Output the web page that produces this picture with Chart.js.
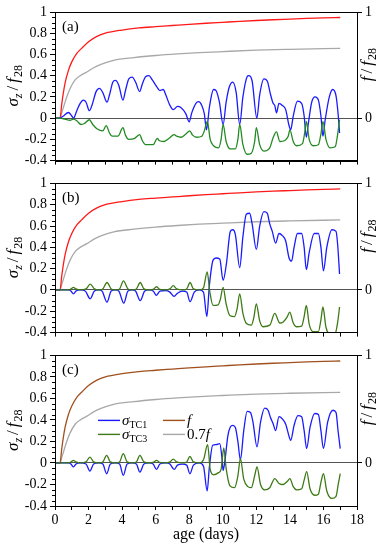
<!DOCTYPE html>
<html>
<head>
<meta charset="utf-8">
<script src="https://cdn.jsdelivr.net/npm/chart.js@4.4.1/dist/chart.umd.min.js"></script>
<style>
  html, body { margin: 0; padding: 0; background: #fff; }
  #wrap { position: relative; width: 384px; height: 550px; }
  canvas { position: absolute; left: 0; }
</style>
</head>
<body>
<div id="wrap">
  <canvas id="panelA" width="384" height="172" style="top:0px"></canvas>
  <canvas id="panelB" width="384" height="172" style="top:172px"></canvas>
  <canvas id="panelC" width="384" height="206" style="top:344px"></canvas>
</div>
<script>
"use strict";

// strength development, shared by all panels
const fDays = [0, 0.3, 0.4, 0.5, 0.6, 0.8, 1.0, 1.3, 1.6, 2.0, 2.5, 3, 4, 5, 6, 7, 8, 9, 10, 11, 12, 13, 14, 15, 16, 17];
const fValues = [0, 0, 0.13, 0.24, 0.33, 0.45, 0.53, 0.61, 0.66, 0.72, 0.77, 0.80, 0.83, 0.85, 0.862, 0.873, 0.884, 0.894, 0.903, 0.912, 0.92, 0.927, 0.933, 0.939, 0.944, 0.948];
const f07Days = [0, 0.3, 0.4, 0.5, 0.7, 0.9, 1.2, 1.5, 1.9, 2.3, 2.7, 3.5, 4.7, 6, 7.3, 8.6, 10, 12, 14, 17];
const f07Values = [0, 0, 0.05, 0.10, 0.20, 0.28, 0.36, 0.40, 0.435, 0.475, 0.505, 0.545, 0.57, 0.59, 0.605, 0.617, 0.627, 0.64, 0.648, 0.657];

// panel (a)
const aTC1Days = [0, 0.3, 0.5, 0.8, 1.0, 1.1, 1.3, 1.5, 1.7, 1.85, 2.05, 2.2, 2.45, 2.65, 2.85, 3.1, 3.25, 3.45, 3.6, 3.8, 4.05, 4.2, 4.4, 4.6, 4.8, 5.05, 5.2, 5.4, 5.6, 5.8, 6.05, 6.25, 6.45, 6.6, 6.85, 7.05, 7.3, 7.5, 7.8, 8.0, 8.15, 8.4, 8.55, 8.75, 8.9, 9.03, 9.2, 9.45, 9.6, 9.8, 10.02, 10.2, 10.4, 10.6, 10.8, 11.01, 11.2, 11.45, 11.55, 11.75, 12.03, 12.2, 12.45, 12.65, 12.85, 13.0, 13.1, 13.2, 13.35, 13.55, 13.75, 13.95, 14.05, 14.2, 14.45, 14.7, 14.85, 14.98, 15.1, 15.3, 15.5, 15.7, 15.85, 15.97, 16.1, 16.35, 16.55, 16.75, 16.88, 16.96];
const aTC1Values = [0, 0, 0.02, 0.053, 0.02, 0.0, 0.07, 0.14, 0.17, 0.15, 0.07, 0.12, 0.25, 0.28, 0.24, 0.15, 0.22, 0.34, 0.355, 0.31, 0.17, 0.26, 0.37, 0.386, 0.34, 0.25, 0.32, 0.39, 0.40, 0.36, 0.30, 0.26, 0.27, 0.22, 0.12, 0.08, 0.11, 0.10, 0.04, -0.035, 0.05, 0.14, 0.155, 0.12, 0.04, -0.11, 0.10, 0.27, 0.26, 0.15, -0.06, 0.15, 0.30, 0.34, 0.24, -0.06, 0.20, 0.39, 0.40, 0.35, 0.0, 0.22, 0.37, 0.35, 0.22, 0.14, 0.12, 0.05, 0.14, 0.12, 0.08, -0.07, -0.11, 0.02, 0.16, 0.14, 0.02, -0.18, -0.05, 0.15, 0.20, 0.17, 0.02, -0.17, -0.02, 0.20, 0.27, 0.21, 0.03, -0.14];
const aTC3Days = [0, 0.3, 0.6, 0.9, 1.1, 1.3, 1.55, 1.75, 2.05, 2.25, 2.5, 2.85, 3.05, 3.25, 3.4, 3.75, 4.05, 4.2, 4.4, 4.75, 5.05, 5.2, 5.4, 5.85, 6.1, 6.2, 6.5, 6.8, 7.1, 7.25, 7.5, 7.8, 8.03, 8.2, 8.45, 8.75, 8.9, 9.08, 9.25, 9.45, 9.75, 9.9, 10.02, 10.2, 10.45, 10.75, 10.9, 11.01, 11.2, 11.45, 11.7, 11.9, 12.0, 12.2, 12.45, 12.8, 13.0, 13.2, 13.4, 13.7, 13.9, 14.0, 14.2, 14.4, 14.75, 14.9, 14.98, 15.15, 15.4, 15.7, 15.85, 15.97, 16.15, 16.4, 16.7, 16.85, 16.96];
const aTC3Values = [0, 0, -0.01, -0.02, -0.01, -0.025, -0.06, -0.05, -0.015, -0.06, -0.10, -0.12, -0.07, -0.14, -0.17, -0.17, -0.09, -0.16, -0.20, -0.19, -0.155, -0.21, -0.25, -0.25, -0.19, -0.21, -0.22, -0.19, -0.155, -0.17, -0.18, -0.15, -0.12, -0.16, -0.18, -0.17, -0.12, -0.03, -0.20, -0.26, -0.28, -0.20, -0.06, -0.22, -0.29, -0.29, -0.20, -0.06, -0.25, -0.34, -0.33, -0.22, -0.09, -0.25, -0.31, -0.28, -0.185, -0.13, -0.22, -0.21, -0.17, -0.11, -0.22, -0.26, -0.24, -0.12, -0.03, -0.20, -0.26, -0.25, -0.15, -0.03, -0.20, -0.28, -0.27, -0.15, -0.015];

// panel (b)
const bTC1Days = [0, 0.3, 0.8, 0.95, 1.1, 1.25, 1.5, 1.8, 2.1, 2.35, 2.6, 2.8, 3.1, 3.35, 3.6, 3.8, 4.1, 4.35, 4.6, 4.8, 5.08, 5.35, 5.6, 5.85, 6.05, 6.25, 6.6, 6.85, 7.1, 7.3, 7.6, 7.85, 8.05, 8.3, 8.6, 8.85, 9.05, 9.2, 9.42, 9.6, 9.82, 10.02, 10.22, 10.45, 10.6, 10.75, 11.01, 11.2, 11.4, 11.6, 11.75, 12.0, 12.2, 12.45, 12.65, 12.8, 12.95, 13.15, 13.35, 13.55, 13.75, 13.95, 14.1, 14.25, 14.45, 14.7, 14.85, 14.98, 15.15, 15.45, 15.7, 15.85, 16.0, 16.2, 16.5, 16.75, 16.85, 16.96];
const bTC1Values = [0, 0, 0, -0.01, -0.037, -0.01, 0, -0.01, -0.083, -0.01, 0, -0.01, -0.114, -0.01, 0, -0.01, -0.123, -0.01, 0, -0.01, -0.10, -0.01, 0, -0.01, -0.05, -0.01, -0.005, -0.02, -0.06, -0.03, -0.01, -0.02, -0.11, -0.02, 0, -0.02, -0.25, 0.04, 0.28, 0.30, 0.29, 0.09, 0.25, 0.55, 0.565, 0.52, 0.21, 0.50, 0.71, 0.72, 0.62, 0.38, 0.60, 0.735, 0.72, 0.62, 0.55, 0.44, 0.53, 0.51, 0.46, 0.30, 0.27, 0.40, 0.53, 0.53, 0.40, 0.19, 0.35, 0.53, 0.53, 0.40, 0.18, 0.40, 0.565, 0.55, 0.42, 0.15];
const bTC3Days = [0, 0.3, 0.8, 0.95, 1.1, 1.25, 1.5, 1.85, 2.1, 2.35, 2.6, 2.85, 3.1, 3.35, 3.6, 3.85, 4.08, 4.35, 4.6, 4.85, 5.08, 5.3, 5.6, 5.85, 6.05, 6.25, 6.6, 6.85, 7.05, 7.25, 7.6, 7.85, 8.05, 8.25, 8.6, 8.85, 9.07, 9.23, 9.42, 9.72, 9.85, 10.02, 10.2, 10.42, 10.7, 10.85, 11.01, 11.2, 11.41, 11.7, 11.85, 12.0, 12.2, 12.4, 12.8, 13.1, 13.4, 13.6, 13.85, 13.99, 14.2, 14.38, 14.7, 14.85, 14.98, 15.15, 15.38, 15.7, 15.85, 15.97, 16.15, 16.47, 16.7, 16.85, 16.96];
const bTC3Values = [0, 0, 0, 0.01, 0.025, 0.01, 0, 0.01, 0.055, 0.01, 0, 0.01, 0.07, 0.01, 0, 0.01, 0.086, 0.01, 0, 0.01, 0.07, 0.01, 0, 0.005, 0.03, 0.005, 0, 0.01, 0.04, 0.01, 0, 0.01, 0.07, 0.01, 0, 0.02, 0.17, -0.02, -0.145, -0.14, -0.09, 0.025, -0.13, -0.24, -0.25, -0.18, -0.037, -0.22, -0.315, -0.33, -0.26, -0.13, -0.29, -0.345, -0.33, -0.22, -0.31, -0.30, -0.25, -0.207, -0.31, -0.345, -0.34, -0.25, -0.145, -0.32, -0.39, -0.39, -0.28, -0.16, -0.35, -0.417, -0.41, -0.30, -0.16];

// panel (c)
const cTC1Days = [0, 0.3, 0.8, 0.95, 1.1, 1.25, 1.5, 1.85, 2.08, 2.3, 2.6, 2.85, 3.08, 3.3, 3.6, 3.85, 4.07, 4.3, 4.6, 4.85, 5.06, 5.3, 5.6, 5.85, 6.05, 6.25, 6.6, 6.85, 7.1, 7.3, 7.6, 7.85, 8.04, 8.25, 8.6, 8.85, 9.07, 9.2, 9.4, 9.6, 9.82, 9.95, 10.02, 10.15, 10.3, 10.45, 10.6, 10.75, 10.9, 11.05, 11.25, 11.45, 11.65, 11.8, 12.04, 12.25, 12.5, 12.7, 12.85, 13.0, 13.15, 13.35, 13.6, 13.75, 13.99, 14.05, 14.25, 14.48, 14.7, 14.85, 15.0, 15.2, 15.48, 15.7, 15.85, 16.0, 16.25, 16.57, 16.75, 16.87, 17.0];
const cTC1Values = [0, 0, 0, -0.01, -0.037, -0.01, 0, -0.01, -0.075, -0.01, 0, -0.01, -0.10, -0.01, 0, -0.01, -0.115, -0.01, 0, -0.01, -0.085, -0.01, 0, -0.01, -0.06, -0.01, 0, -0.01, -0.06, -0.02, -0.01, -0.02, -0.10, -0.02, 0, -0.03, -0.26, -0.04, 0.165, 0.17, 0.18, 0.05, -0.07, 0.05, 0.25, 0.335, 0.35, 0.33, 0.20, 0.03, 0.30, 0.48, 0.47, 0.38, 0.15, 0.38, 0.51, 0.49, 0.42, 0.365, 0.30, 0.43, 0.40, 0.36, 0.227, 0.21, 0.35, 0.44, 0.43, 0.30, 0.134, 0.33, 0.46, 0.45, 0.30, 0.134, 0.38, 0.49, 0.47, 0.30, 0.134];
const cTC3Days = [0, 0.3, 0.8, 0.95, 1.1, 1.25, 1.5, 1.85, 2.08, 2.3, 2.6, 2.85, 3.08, 3.3, 3.6, 3.85, 4.07, 4.3, 4.6, 4.85, 5.06, 5.3, 5.6, 5.85, 6.05, 6.25, 6.6, 6.85, 7.05, 7.25, 7.6, 7.85, 8.04, 8.25, 8.6, 8.85, 9.1, 9.25, 9.45, 9.75, 9.9, 10.06, 10.2, 10.42, 10.7, 10.9, 11.05, 11.25, 11.5, 11.7, 11.9, 12.04, 12.25, 12.5, 12.8, 13.1, 13.35, 13.6, 13.85, 14.0, 14.2, 14.4, 14.7, 14.85, 15.0, 15.2, 15.48, 15.7, 15.85, 16.0, 16.2, 16.5, 16.75, 16.88, 17.0];
const cTC3Values = [0, 0, 0, 0.01, 0.025, 0.01, 0, 0.01, 0.055, 0.01, 0, 0.01, 0.07, 0.01, 0, 0.01, 0.086, 0.01, 0, 0.01, 0.07, 0.01, 0, 0.005, 0.025, 0.005, 0, 0.01, 0.035, 0.01, 0, 0.01, 0.06, 0.01, 0, 0.03, 0.17, -0.06, -0.11, -0.09, -0.06, 0.14, -0.05, -0.21, -0.23, -0.12, 0.04, -0.15, -0.22, -0.23, -0.12, -0.037, -0.20, -0.25, -0.23, -0.145, -0.19, -0.20, -0.17, -0.145, -0.22, -0.25, -0.24, -0.16, -0.08, -0.24, -0.30, -0.29, -0.18, -0.10, -0.26, -0.33, -0.31, -0.20, -0.10];

const yTicks = [-0.4, -0.2, 0, 0.2, 0.4, 0.6, 0.8, 1];
const rightTicks = [0, 1];

const SERIF = "'Liberation Serif', 'DejaVu Serif', serif";

function points(days, vals) {
  return days.map((d, i) => ({ x: d, y: vals[i] }));
}

// draws a run of text pieces (italic / subscript) starting at x
function richText(ctx, parts, x, y, center) {
  let total = 0;
  parts.forEach(p => {
    ctx.font = (p.it ? "italic " : "") + p.size + "px " + SERIF;
    p.w = ctx.measureText(p.t).width + (p.gap || 0);
    total += p.w;
  });
  let cx = center ? x - total / 2 : x;
  ctx.textAlign = "left";
  ctx.textBaseline = "alphabetic";
  parts.forEach(p => {
    ctx.font = (p.it ? "italic " : "") + p.size + "px " + SERIF;
    ctx.fillText(p.t, cx + (p.pre || 0), y + (p.dy || 0));
    cx += p.w;
  });
}

const decor = {
  id: "decor",
  afterDraw(chart, args, opts) {
    const ctx = chart.ctx;
    const area = chart.chartArea;
    const ys = chart.scales.y;
    ctx.save();
    // frame
    ctx.strokeStyle = "#000";
    ctx.lineWidth = 1;
    ctx.strokeRect(Math.round(area.left) + 0.5, Math.round(area.top) + 0.5,
      Math.round(area.right - area.left), Math.round(area.bottom - area.top));
    // minor ticks on the left axis
    ctx.beginPath();
    for (let i = -8; i <= 20; i++) {
      if (i % 4 === 0) continue;
      const py = Math.round(ys.getPixelForValue(i * 0.05)) + 0.5;
      ctx.moveTo(area.left - 3, py);
      ctx.lineTo(area.left, py);
    }
    ctx.stroke();
    ctx.fillStyle = "#000";
    // panel tag
    ctx.font = "15px " + SERIF;
    ctx.textAlign = "left";
    ctx.textBaseline = "middle";
    ctx.fillText(opts.tag, area.left + 7, area.top + 15);
    // left title
    ctx.save();
    ctx.translate(13, (area.top + area.bottom) / 2);
    ctx.rotate(-Math.PI / 2);
    richText(ctx, [
      { t: "σ", it: true, size: 17 },
      { t: "z", it: true, size: 12, dy: 4 },
      { t: "/", size: 17, pre: 3, gap: 6 },
      { t: "f", it: true, size: 17 },
      { t: "28", size: 12, dy: 4, pre: 1 }
    ], 0, 5, true);
    ctx.restore();
    // right title
    const yr = chart.scales.y2;
    ctx.save();
    ctx.translate(367, (yr.getPixelForValue(0) + yr.getPixelForValue(1)) / 2);
    ctx.rotate(-Math.PI / 2);
    richText(ctx, [
      { t: "f", it: true, size: 17 },
      { t: "/", size: 17, pre: 3, gap: 6 },
      { t: "f", it: true, size: 17 },
      { t: "28", size: 12, dy: 4, pre: 1 }
    ], 0, 5, true);
    ctx.restore();
    // legend
    if (opts.legend) {
      const rows = [
        [{ c: "#1a1aff", parts: [{ t: "σ", it: true, size: 15 }, { t: "TC1", size: 10, dy: 3 }] },
         { c: "#a0501e", parts: [{ t: "f", it: true, size: 15 }] }],
        [{ c: "#3d7a16", parts: [{ t: "σ", it: true, size: 15 }, { t: "TC3", size: 10, dy: 3 }] },
         { c: "#a8a8a8", parts: [{ t: "0.7", size: 15 }, { t: "f", it: true, size: 15 }] }]
      ];
      rows.forEach((row, r) => {
        const ly = area.top + 65 + r * 14;
        row.forEach((item, k) => {
          const lx = area.left + 43 + k * 65;
          ctx.strokeStyle = item.c;
          ctx.lineWidth = 1.4;
          ctx.beginPath();
          ctx.moveTo(lx, ly);
          ctx.lineTo(lx + 22, ly);
          ctx.stroke();
          ctx.fillStyle = "#000";
          richText(ctx, item.parts, lx + 24, ly + 5, false);
        });
      });
    }
    ctx.restore();
  }
};

function makePanel(id, tag, tc1, tc3, green, fColor, showX, legend) {
  const ctx = document.getElementById(id).getContext("2d");
  const line = (data, color, order) => ({
    data: data,
    borderColor: color,
    borderWidth: 1.3,
    pointRadius: 0,
    fill: false,
    cubicInterpolationMode: "monotone",
    order: order
  });
  return new Chart(ctx, {
    type: "line",
    data: {
      datasets: [
        line(points(f07Days, f07Values), "#a8a8a8", 4),
        line(points(fDays, fValues), fColor, 3),
        line(tc1, "#1a1aff", 2),
        line(tc3, green, 1)
      ]
    },
    options: {
      responsive: false,
      animation: false,
      layout: { padding: { top: tag === "(a)" ? 12 : 11, left: 0, right: 0, bottom: 0 } },
      plugins: {
        legend: { display: false },
        tooltip: { enabled: false },
        decor: { tag: tag, legend: legend }
      },
      scales: {
        x: {
          type: "linear",
          min: 0,
          max: 18,
          afterFit: s => { s.height = showX ? 44 : 9; },
          afterBuildTicks: s => { s.ticks = Array.from({ length: 19 }, (_, i) => ({ value: i })); },
          ticks: {
            display: showX,
            autoSkip: false,
            maxRotation: 0,
            padding: 2,
            color: "#000",
            font: { family: SERIF, size: 14 },
            callback: v => (v % 2 === 0 ? String(v) : "")
          },
          grid: { drawOnChartArea: false, tickLength: 4, tickColor: "#000" },
          border: { display: true, color: "#000", width: 1 },
          title: {
            display: showX,
            text: "age (days)",
            color: "#000",
            font: { family: SERIF, size: 16 },
            padding: { top: 0, bottom: 6 }
          }
        },
        y: {
          position: "left",
          min: -0.4,
          max: 1,
          afterFit: s => { s.width = 55; },
          afterBuildTicks: s => { s.ticks = yTicks.map(v => ({ value: v })); },
          ticks: {
            padding: 3,
            color: "#000",
            font: { family: SERIF, size: 14 },
            callback: v => String(Math.round(v * 10) / 10)
          },
          grid: {
            drawOnChartArea: true,
            tickLength: 5,
            tickColor: "#000",
            color: c => (c.tick && c.tick.value === 0 ? "#555" : "rgba(0,0,0,0)")
          },
          border: { display: true, color: "#000", width: 1 }
        },
        y2: {
          position: "right",
          min: -0.4,
          max: 1,
          afterFit: s => { s.width = 27; },
          afterBuildTicks: s => { s.ticks = rightTicks.map(v => ({ value: v })); },
          ticks: {
            padding: 3,
            color: "#000",
            font: { family: SERIF, size: 14 },
            callback: v => String(v)
          },
          grid: { drawOnChartArea: false, tickLength: 5, tickColor: "#000", color: "#000" },
          border: { display: true, color: "#000", width: 1 }
        }
      }
    },
    plugins: [decor]
  });
}

function drawAll() {
  makePanel("panelA", "(a)", points(aTC1Days, aTC1Values), points(aTC3Days, aTC3Values), "#238a23", "#ff1a1a", false, false);
  makePanel("panelB", "(b)", points(bTC1Days, bTC1Values), points(bTC3Days, bTC3Values), "#3d7a16", "#ff1a1a", false, false);
  makePanel("panelC", "(c)", points(cTC1Days, cTC1Values), points(cTC3Days, cTC3Values), "#3d7a16", "#a0501e", true, true);
}

Promise.all([
  document.fonts.load("14px 'Liberation Serif'"),
  document.fonts.load("italic 14px 'Liberation Serif'")
]).then(drawAll, drawAll);
</script>
</body>
</html>
